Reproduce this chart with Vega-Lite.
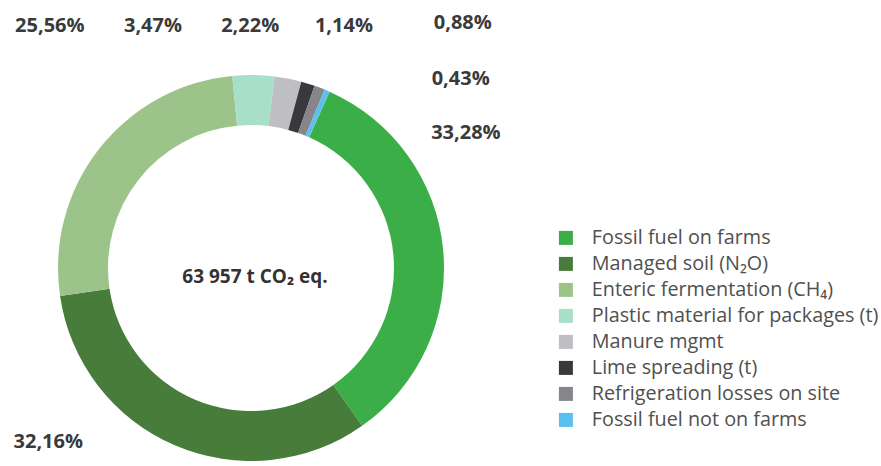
{
  "$schema": "https://vega.github.io/schema/vega-lite/v6.json",
  "width": 502,
  "height": 536,
  "autosize": "none",
  "padding": {"left": 0, "top": 0, "right": 379, "bottom": 0},
  "background": "white",
  "config": {"view": {"stroke": null}},
  "data": {
    "values": [
      {"cat": "Fossil fuel on farms", "value": 33.28, "label": "33,28%", "ord": 1},
      {"cat": "Managed soil (N₂O)", "value": 32.16, "label": "32,16%", "ord": 2},
      {"cat": "Enteric fermentation (CH₄)", "value": 25.56, "label": "25,56%", "ord": 3},
      {"cat": "Plastic material for packages (t)", "value": 3.47, "label": "3,47%", "ord": 4},
      {"cat": "Manure mgmt", "value": 2.22, "label": "2,22%", "ord": 5},
      {"cat": "Lime spreading (t)", "value": 1.14, "label": "1,14%", "ord": 6},
      {"cat": "Refrigeration losses on site", "value": 0.88, "label": "0,88%", "ord": 7},
      {"cat": "Fossil fuel not on farms", "value": 0.43, "label": "0,43%", "ord": 8}
    ]
  },
  "encoding": {
    "theta": {"field": "value", "type": "quantitative", "stack": true, "scale": {"range": [0.419, 6.702]}},
    "order": {"field": "ord", "type": "quantitative"}
  },
  "layer": [
    {
      "mark": {"type": "arc", "outerRadius": 193, "innerRadius": 143},
      "encoding": {
        "color": {
          "field": "cat",
          "type": "nominal",
          "scale": {
            "domain": ["Fossil fuel on farms", "Managed soil (N₂O)", "Enteric fermentation (CH₄)", "Plastic material for packages (t)", "Manure mgmt", "Lime spreading (t)", "Refrigeration losses on site", "Fossil fuel not on farms"],
            "range": ["#3cae48", "#477c3a", "#9cc48a", "#a8dfc8", "#bfbfc3", "#38393c", "#85858a", "#5bc0ee"]
          },
          "legend": {
            "title": null,
            "orient": "none",
            "legendX": 556,
            "legendY": 228,
            "symbolType": "square",
            "symbolSize": 196,
            "symbolStrokeWidth": 0,
            "labelFont": "Open Sans",
            "labelFontSize": 19.8,
            "labelColor": "#505050",
            "labelOffset": 16,
            "rowPadding": 5,
            "labelLimit": 400
          }
        }
      }
    },
    {"mark": {"type": "text", "radius": 230, "dx": -14, "dy": -113, "font": "Open Sans", "fontWeight": "bold", "fontSize": 20, "fill": "#3a3a3a"},
     "encoding": {"text": {"condition": {"test": "datum.ord === 1", "field": "label"}, "value": ""}}},
    {"mark": {"type": "text", "radius": 230, "dx": -112, "dy": -37, "font": "Open Sans", "fontWeight": "bold", "fontSize": 20, "fill": "#3a3a3a"},
     "encoding": {"text": {"condition": {"test": "datum.ord === 2", "field": "label"}, "value": ""}}},
    {"mark": {"type": "text", "radius": 230, "dx": -20, "dy": -100, "font": "Open Sans", "fontWeight": "bold", "fontSize": 20, "fill": "#3a3a3a"},
     "encoding": {"text": {"condition": {"test": "datum.ord === 3", "field": "label"}, "value": ""}}},
    {"mark": {"type": "text", "radius": 230, "dx": -101, "dy": -12, "font": "Open Sans", "fontWeight": "bold", "fontSize": 20, "fill": "#3a3a3a"},
     "encoding": {"text": {"condition": {"test": "datum.ord === 4", "field": "label"}, "value": ""}}},
    {"mark": {"type": "text", "radius": 230, "dx": -45, "dy": -16, "font": "Open Sans", "fontWeight": "bold", "fontSize": 20, "fill": "#3a3a3a"},
     "encoding": {"text": {"condition": {"test": "datum.ord === 5", "field": "label"}, "value": ""}}},
    {"mark": {"type": "text", "radius": 230, "dx": 25, "dy": -22, "font": "Open Sans", "fontWeight": "bold", "fontSize": 20, "fill": "#3a3a3a"},
     "encoding": {"text": {"condition": {"test": "datum.ord === 6", "field": "label"}, "value": ""}}},
    {"mark": {"type": "text", "radius": 230, "dx": 130, "dy": -30, "font": "Open Sans", "fontWeight": "bold", "fontSize": 20, "fill": "#3a3a3a"},
     "encoding": {"text": {"condition": {"test": "datum.ord === 7", "field": "label"}, "value": ""}}},
    {"mark": {"type": "text", "radius": 230, "dx": 119, "dy": 22, "font": "Open Sans", "fontWeight": "bold", "fontSize": 20, "fill": "#3a3a3a"},
     "encoding": {"text": {"condition": {"test": "datum.ord === 8", "field": "label"}, "value": ""}}},
    {
      "data": {"values": [{"t": "63 957 t CO₂ eq."}]},
      "mark": {"type": "text", "dx": 4, "dy": 9, "font": "Open Sans", "fontWeight": "bold", "fontSize": 19, "fill": "#333333"},
      "encoding": {"text": {"field": "t", "type": "nominal"}, "theta": null, "order": null}
    }
  ]
}
